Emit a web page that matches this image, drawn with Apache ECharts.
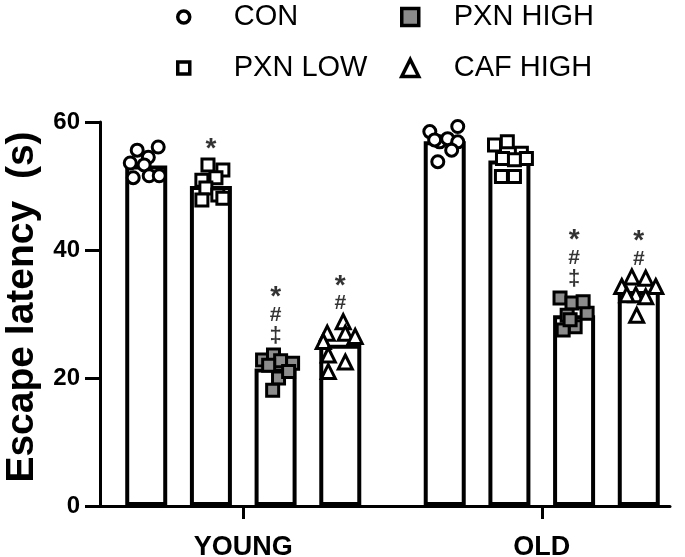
<!DOCTYPE html>
<html lang="en">
<head>
<meta charset="UTF-8">
<title>Escape latency</title>
<script src="https://cdn.jsdelivr.net/npm/echarts@6/dist/echarts.min.js"></script>
<style>
  html, body { margin: 0; padding: 0; background: #fff; }
  #main { width: 685px; height: 557px; }
</style>
</head>
<body>
<div id="main"></div>
<script type="text/javascript">
    // categories
    var groups = ['YOUNG', 'OLD'];
    var treatments = ['CON', 'PXN LOW', 'PXN HIGH', 'CAF HIGH'];

    // bar heights (mean), one value per group
    var conMean = [53.2, 57.0];
    var lowMean = [50.0, 54.0];
    var highMean = [21.5, 29.8];
    var cafMean = [25.2, 33.6];

    // individual animals
    var conYoung = [55.6, 56.1, 54.5, 53.6, 53.3, 51.3, 51.6, 51.6];
    var conOld = [58.5, 59.3, 56.9, 57.4, 56.9, 57.2, 55.6, 53.8];
    var lowYoung = [53.3, 52.5, 50.9, 51.3, 49.7, 48.6, 47.8, 48.1];
    var lowOld = [56.4, 56.9, 55.1, 54.3, 54.1, 54.3, 51.5, 51.5];
    var highYoung = [22.8, 23.6, 22.7, 22.3, 22.0, 20.0, 18.1, 21.0];
    var highOld = [32.5, 31.7, 30.1, 31.9, 29.8, 28.0, 27.5, 29.1];
    var cafYoung = [28.8, 27.0, 27.0, 26.5, 25.7, 23.6, 22.5, 21.0];
    var cafOld = [35.8, 35.6, 34.3, 34.3, 33.0, 32.7, 33.0, 29.8];

    // horizontal scatter of the dots inside a bar (-1 .. 1 of half a bar)
    var conYoungJit = [-0.43, 0.57, 0.1, -0.76, -0.1, -0.62, 0.14, 0.62];
    var conOldJit = [-0.71, 0.62, -0.24, 0.14, 0.62, -0.48, 0.33, -0.33];
    var lowYoungJit = [-0.14, 0.57, -0.43, 0.24, -0.24, 0.33, -0.43, 0.57];
    var lowOldJit = [-0.71, -0.1, 0.57, -0.33, 0.24, 0.81, -0.38, 0.24];
    var highYoungJit = [-0.62, -0.1, 0.24, 0.81, -0.33, 0.14, -0.14, 0.62];
    var highOldJit = [-0.67, -0.1, 0.62, 0.43, -0.33, 0.05, -0.52, -0.19];
    var cafYoungJit = [0.14, -0.62, 0.24, 0.71, -0.81, -0.57, 0.24, -0.57];
    var cafOldJit = [-0.33, 0.33, -0.81, 0.81, -0.14, 0.33, -0.57, -0.1];

    // significance marks above each bar
    var marksYoung = [[], ['*'], ['*', '#', '\u2021'], ['*', '#']];
    var marksOld = [[], [], ['*', '#', '\u2021'], ['*', '#']];

    var yTicks = [0, 20, 40, 60];

    var means = [conMean, lowMean, highMean, cafMean];
    var points = [[conYoung, conOld], [lowYoung, lowOld], [highYoung, highOld], [cafYoung, cafOld]];
    var jitters = [[conYoungJit, conOldJit], [lowYoungJit, lowOldJit], [highYoungJit, highOldJit], [cafYoungJit, cafOldJit]];
    var marks = [marksYoung, marksOld];

    var FONT = 'Liberation Sans';
    var BAND = 298.5;       // px per category
    var BAR_W = 42;
    var BAR_BORDER = 4;
    var BAR_GAP = 0.54;
    var PITCH = BAR_W * (1 + BAR_GAP);
    var symbols = ['circle', 'rect', 'rect', 'triangle'];
    var symbolSizes = [12, 12, 12, 14];
    var fills = ['#ffffff', '#ffffff', '#8c8c8c', '#ffffff'];
    var markStyle = { '*': 'star', '#': 'hash', '\u2021': 'dagger' };

    function barCenter(g, s) {
        return g + 0.5 + (s - 1.5) * PITCH / BAND;
    }

    var series = [];
    treatments.forEach(function (name, s) {
        series.push({
            name: name + ' bar',
            type: 'bar',
            xAxisIndex: 0,
            yAxisIndex: 0,
            barWidth: BAR_W,
            barGap: Math.round(BAR_GAP * 100) + '%',
            data: means[s],
            itemStyle: { color: '#fff', borderColor: '#000', borderWidth: BAR_BORDER },
            silent: true
        });
    });
    treatments.forEach(function (name, s) {
        var data = [];
        groups.forEach(function (gName, g) {
            points[s][g].forEach(function (v, i) {
                var x = barCenter(g, s) + jitters[s][g][i] * (BAR_W / 2) / BAND;
                data.push([x, v]);
            });
        });
        series.push({
            name: name,
            type: 'scatter',
            xAxisIndex: 2,
            yAxisIndex: 0,
            symbol: symbols[s],
            symbolSize: symbolSizes[s],
            data: data,
            itemStyle: { color: fills[s], borderColor: '#000', borderWidth: 3, opacity: 1 },
            silent: true,
            z: 3
        });
    });

    // marks
    var markData = [];
    groups.forEach(function (gName, g) {
        treatments.forEach(function (name, s) {
            if (!marks[g][s].length) return;
            var txt = marks[g][s].map(function (m) {
                return '{' + markStyle[m] + '|' + m + '}';
            }).join('\n');
            markData.push({
                value: [barCenter(g, s), Math.max.apply(null, points[s][g])],
                label: { formatter: txt }
            });
        });
    });
    series.push({
        name: 'marks',
        type: 'scatter',
        xAxisIndex: 2,
        yAxisIndex: 0,
        symbolSize: 0,
        data: markData,
        silent: true,
        z: 4,
        label: {
            show: true,
            position: 'top',
            distance: 8,
            color: '#000',
            fontFamily: FONT,
            fontWeight: 'bold',
            align: 'center',
            rich: {
                star: { fontFamily: FONT, fontWeight: 'bold', fontSize: 28, lineHeight: 15, color: '#000' },
                hash: { fontFamily: FONT, fontWeight: 'bold', fontSize: 21, lineHeight: 20, color: '#000' },
                dagger: { fontFamily: FONT, fontWeight: 'bold', fontSize: 22, lineHeight: 22, color: '#000' }
            }
        }
    });

    var legendText = { color: '#000', fontFamily: FONT, fontSize: 29, lineHeight: 30 };
    var option = {
        animation: false,
        backgroundColor: '#fff',
        legend: [{
            orient: 'vertical',
            left: 176,
            top: 2,
            padding: 0,
            itemGap: 21,
            itemWidth: 12,
            itemHeight: 12,
            selectedMode: false,
            textStyle: Object.assign({ padding: [0, 0, 0, 39] }, legendText),
            data: [
                { name: 'CON', icon: 'circle', itemStyle: { color: '#fff', borderColor: '#000', borderWidth: 3.5 } },
                { name: 'PXN LOW', icon: 'rect', itemStyle: { color: '#fff', borderColor: '#000', borderWidth: 3.5 } }
            ]
        }, {
            orient: 'vertical',
            left: 400,
            top: 2,
            padding: 0,
            itemGap: 21,
            itemWidth: 17,
            itemHeight: 17,
            selectedMode: false,
            textStyle: Object.assign({ padding: [0, 0, 0, 30] }, legendText),
            data: [
                { name: 'PXN HIGH', icon: 'rect', itemStyle: { color: '#8c8c8c', borderColor: '#000', borderWidth: 3.5 } },
                { name: 'CAF HIGH', icon: 'triangle', itemStyle: { color: '#fff', borderColor: '#000', borderWidth: 3.5 } }
            ]
        }],
        grid: [
            { left: 94, width: 2 * BAND, top: 122, bottom: 51, outerBoundsMode: 'none', containLabel: false },
            { left: 100, right: 15, top: 122, bottom: 51, outerBoundsMode: 'none', containLabel: false }
        ],
        xAxis: [{
            type: 'category',
            gridIndex: 0,
            data: groups,
            axisLine: { show: false },
            axisTick: { show: true, alignWithLabel: true, length: 13, lineStyle: { color: '#000', width: 3 } },
            axisLabel: { color: '#000', fontFamily: FONT, fontWeight: 'bold', fontSize: 27, margin: 28 }
        }, {
            type: 'value',
            gridIndex: 1,
            min: 0,
            max: 1,
            axisLine: { show: true, onZero: false, lineStyle: { color: '#000', width: 3 } },
            axisTick: { show: false },
            axisLabel: { show: false },
            splitLine: { show: false }
        }, {
            type: 'value',
            gridIndex: 0,
            min: 0,
            max: 2,
            show: false
        }],
        yAxis: [{
            type: 'value',
            gridIndex: 0,
            min: 0,
            max: 60,
            show: false
        }, {
            type: 'value',
            gridIndex: 1,
            min: yTicks[0],
            max: yTicks[yTicks.length - 1],
            interval: 20,
            name: 'Escape latency  (s)',
            nameLocation: 'middle',
            nameGap: 58,
            nameTextStyle: { color: '#000', fontFamily: FONT, fontWeight: 'bold', fontSize: 39, padding: [0, 0, 0, 14] },
            axisLine: { show: true, lineStyle: { color: '#000', width: 3 } },
            axisTick: { show: true, length: 15, lineStyle: { color: '#000', width: 3 } },
            axisLabel: { color: '#000', fontFamily: FONT, fontWeight: 'bold', fontSize: 24, margin: 20 },
            splitLine: { show: false }
        }],
        series: series
    };

    var myChart = echarts.init(document.getElementById('main'));
    myChart.setOption(option);
</script>
</body>
</html>
